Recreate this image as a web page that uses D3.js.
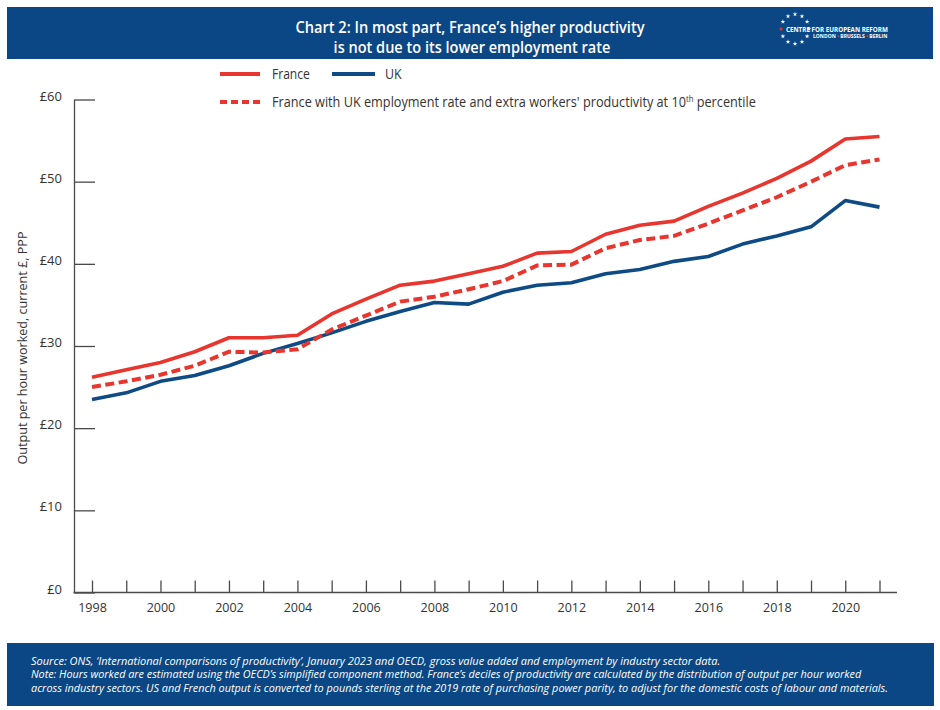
<!DOCTYPE html>
<html>
<head>
<meta charset="utf-8">
<script src="https://cdn.jsdelivr.net/npm/d3@7"></script>
<style>
  html, body { margin: 0; padding: 0; background: #ffffff; }
  svg { display: block; }
  text { font-family: "Open Sans", "Noto Sans", sans-serif; }
</style>
</head>
<body>
<svg id="chart" width="940" height="710"></svg>
<script>
// ---------------- Data ----------------
const years = [1998, 1999, 2000, 2001, 2002, 2003, 2004, 2005, 2006, 2007, 2008, 2009,
               2010, 2011, 2012, 2013, 2014, 2015, 2016, 2017, 2018, 2019, 2020, 2021];
const france = [26.2, 27.1, 28.0, 29.3, 31.0, 31.0, 31.3, 33.9, 35.7, 37.4, 37.9, 38.8,
                39.7, 41.3, 41.5, 43.6, 44.7, 45.2, 47.0, 48.6, 50.4, 52.5, 55.2, 55.5];
const franceUkEmployment = [25.0, 25.7, 26.5, 27.6, 29.3, 29.2, 29.6, 32.0, 33.7, 35.4, 36.0, 36.9,
                37.9, 39.8, 39.9, 41.9, 42.9, 43.4, 44.9, 46.5, 48.1, 50.0, 52.0, 52.7];
const uk = [23.5, 24.3, 25.7, 26.4, 27.6, 29.1, 30.3, 31.6, 33.0, 34.2, 35.3, 35.1,
            36.55, 37.4, 37.7, 38.8, 39.3, 40.3, 40.9, 42.4, 43.4, 44.5, 47.7, 46.9];
const yTicks = [0, 10, 20, 30, 40, 50, 60];
const xLabelYears = [1998, 2000, 2002, 2004, 2006, 2008, 2010, 2012, 2014, 2016, 2018, 2020];

const titleLines = ["Chart 2: In most part, France\u2019s higher productivity",
                    "is not due to its lower employment rate"];
const yAxisTitle = "Output per hour worked, current \u00a3, PPP";
const footerLines = [
  "Source: ONS, \u2018International comparisons of productivity\u2019, January 2023 and OECD, gross value added and employment by industry sector data.",
  "Note: Hours worked are estimated using the OECD\u2019s simplified component method. France\u2019s deciles of productivity are calculated by the distribution of output per hour worked",
  "across industry sectors. US and French output is converted to pounds sterling at the 2019 rate of purchasing power parity, to adjust for the domestic costs of labour and materials."
];

// ---------------- Styles ----------------
const RED = "#e8352d";
const BLUE = "#0e4b85";
const BAND = "#0b4784";
const AXIS = "#4a4a4a";
const TEXT = "#333333";

const svg = d3.select("#chart");

// helper: horizontally fit text to a target width (scale about anchor)
function fitX(sel, target) {
  sel.each(function () {
    const bb = this.getBBox();
    if (!bb.width) return;
    const s = target / bb.width;
    const anchor = d3.select(this).attr("text-anchor") || "start";
    let x0 = bb.x;
    if (anchor === "middle") x0 = bb.x + bb.width / 2;
    if (anchor === "end") x0 = bb.x + bb.width;
    d3.select(this).attr("transform", `translate(${x0},0) scale(${s},1) translate(${-x0},0)`);
  });
}

// ---------------- Header ----------------
svg.append("rect").attr("x", 7).attr("y", 7).attr("width", 926).attr("height", 52).attr("fill", BAND);
const tl1 = svg.append("text").attr("x", 470).attr("y", 33).attr("text-anchor", "middle")
  .attr("fill", "#ffffff").attr("font-size", 15.5).attr("font-weight", 600).text(titleLines[0]);
fitX(tl1, 350);
const tl2 = svg.append("text").attr("x", 472).attr("y", 53).attr("text-anchor", "middle")
  .attr("fill", "#ffffff").attr("font-size", 15.5).attr("font-weight", 600).text(titleLines[1]);
fitX(tl2, 277);

// logo: ring of stars
const logo = svg.append("g");
const starCount = 12;
const ringCx = 795, ringCy = 29, ringR = 14;
d3.range(starCount).forEach(i => {
  const a = Math.PI + i * 2 * Math.PI / starCount;
  logo.append("path")
    .attr("d", d3.symbol().type(d3.symbolStar).size(7)())
    .attr("transform", `translate(${ringCx + ringR * Math.cos(a)},${ringCy + ringR * Math.sin(a) * 1.05})`)
    .attr("fill", i === 0 ? RED : "#ffffff");
});
const lg1 = logo.append("text").attr("x", 786).attr("y", 32).attr("fill", "#ffffff")
  .attr("font-size", 7).attr("font-weight", 700).text("CENTRE FOR EUROPEAN REFORM");
fitX(lg1, 102);
const lg2 = logo.append("text").attr("x", 813).attr("y", 38.5).attr("fill", "#ffffff")
  .attr("font-size", 4.5).attr("font-weight", 700);
lg2.append("tspan").text("LONDON ");
lg2.append("tspan").attr("fill", RED).text("\u2022");
lg2.append("tspan").text(" BRUSSELS ");
lg2.append("tspan").attr("fill", RED).text("\u2022");
lg2.append("tspan").text(" BERLIN");
fitX(lg2, 75);

// ---------------- Scales ----------------
const x = d3.scaleLinear().domain([1998, 2021]).range([92, 879.5]);
const y = d3.scaleLinear().domain([0, 60]).range([592.5, 99.5]);

// ---------------- Axes ----------------
const yAxis = d3.axisLeft(y).tickValues(yTicks).tickSizeInner(-21).tickSizeOuter(0)
  .tickPadding(12).tickFormat(d => "\u00a3" + d);
const gy = svg.append("g").attr("transform", "translate(74,0)").call(yAxis);
gy.select(".domain").attr("stroke", AXIS).attr("stroke-width", 1.3);
gy.selectAll(".tick line").attr("stroke", AXIS).attr("stroke-width", 1.3);
gy.selectAll(".tick text").attr("fill", TEXT).attr("font-size", 13)
  .attr("font-family", "'Open Sans', sans-serif").attr("dy", "0.05em");

const xAxis = d3.axisBottom(x).tickValues(years).tickSizeInner(-12).tickSizeOuter(0)
  .tickPadding(11).tickFormat(d => xLabelYears.includes(d) ? String(d) : "");
const gx = svg.append("g").attr("transform", "translate(0,592.5)").call(xAxis);
gx.select(".domain").remove();
gx.selectAll(".tick line").attr("stroke", AXIS).attr("stroke-width", 1.3);
gx.selectAll(".tick text").attr("fill", TEXT).attr("font-size", 12.5)
  .attr("font-family", "'Open Sans', sans-serif");
svg.append("line").attr("x1", 73.5).attr("x2", 897).attr("y1", 592.5).attr("y2", 592.5)
  .attr("stroke", AXIS).attr("stroke-width", 1.4);

// y axis title
svg.append("text").attr("transform", "translate(27,348) rotate(-90)")
  .attr("text-anchor", "middle").attr("fill", TEXT).attr("font-size", 13)
  .attr("textLength", 233).attr("lengthAdjust", "spacingAndGlyphs").text(yAxisTitle);

// ---------------- Lines ----------------
const line = d3.line().x((d, i) => x(years[i])).y(d => y(d));
svg.append("path").datum(uk).attr("d", line).attr("fill", "none")
  .attr("stroke", BLUE).attr("stroke-width", 3.6).attr("stroke-linejoin", "round");
svg.append("path").datum(franceUkEmployment).attr("d", line).attr("fill", "none")
  .attr("stroke", RED).attr("stroke-width", 4).attr("stroke-dasharray", "9,4.5");
svg.append("path").datum(france).attr("d", line).attr("fill", "none")
  .attr("stroke", RED).attr("stroke-width", 3.6).attr("stroke-linejoin", "round");

// ---------------- Legend ----------------
const leg = svg.append("g");
leg.append("line").attr("x1", 220).attr("x2", 260).attr("y1", 74).attr("y2", 74)
  .attr("stroke", RED).attr("stroke-width", 4);
const lt1 = leg.append("text").attr("x", 272).attr("y", 79).attr("fill", TEXT)
  .attr("font-size", 14).text("France");
fitX(lt1, 38);
leg.append("line").attr("x1", 332).attr("x2", 375).attr("y1", 74).attr("y2", 74)
  .attr("stroke", BLUE).attr("stroke-width", 4);
const lt2 = leg.append("text").attr("x", 385).attr("y", 79).attr("fill", TEXT)
  .attr("font-size", 14).text("UK");
fitX(lt2, 17);
leg.append("line").attr("x1", 220).attr("x2", 260).attr("y1", 102).attr("y2", 102)
  .attr("stroke", RED).attr("stroke-width", 4).attr("stroke-dasharray", "7,4");
const lt3 = leg.append("text").attr("x", 272).attr("y", 107).attr("fill", TEXT).attr("font-size", 14);
lt3.append("tspan").text("France with UK employment rate and extra workers' productivity at 10");
lt3.append("tspan").attr("font-size", 8.5).attr("dy", -5).text("th");
lt3.append("tspan").attr("dy", 5).text(" percentile");
fitX(lt3, 484);

// ---------------- Footer ----------------
svg.append("rect").attr("x", 7).attr("y", 643).attr("width", 927).attr("height", 63).attr("fill", BAND);
const footWidths = [690, 832, 858];
footerLines.forEach((t, i) => {
  const ft = svg.append("text").attr("x", 31).attr("y", 665 + i * 13.5).attr("fill", "#ffffff")
    .attr("font-size", 11).attr("font-style", "italic").text(t);
  fitX(ft, footWidths[i]);
});
</script>
</body>
</html>
